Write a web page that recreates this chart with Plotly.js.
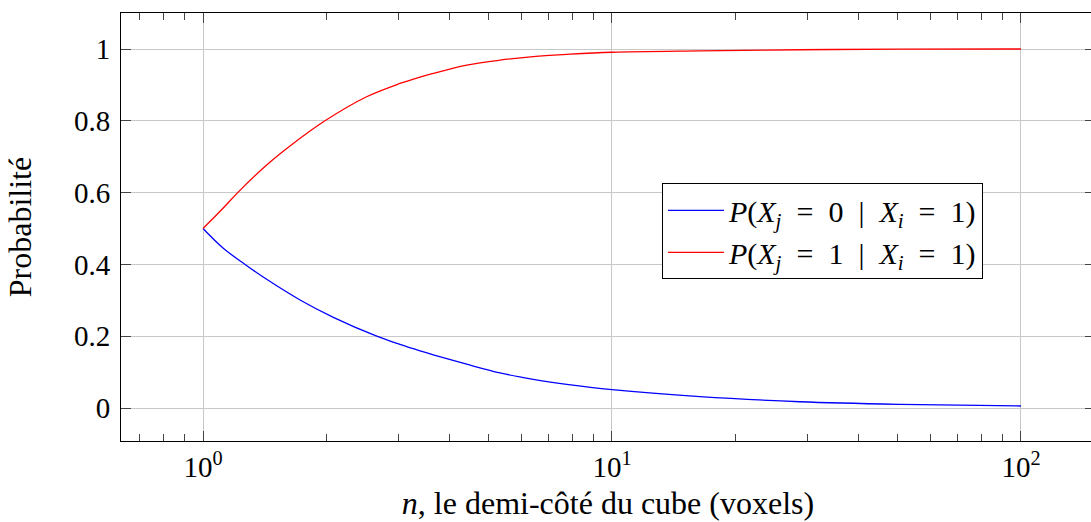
<!DOCTYPE html>
<html>
<head>
<meta charset="utf-8">
<script src="https://cdn.plot.ly/plotly-3.0.1.min.js"></script>
<style>
html, body { margin: 0; padding: 0; overflow: hidden; background: #fff; }
#chart { width: 1095px; height: 522px; }
</style>
</head>
<body>
<div id="chart"></div>
<script>
// n values and probabilities
const nBlue = [1, 1.121, 1.267, 1.431, 1.727, 2.083, 2.66, 3.03, 3.394, 3.657, 4.414, 5.32, 6.42, 7.75, 10, 16.4, 28.8, 50.6, 100];
const pBlue = [0.5, 0.445, 0.400, 0.3585, 0.301, 0.2526, 0.200, 0.177, 0.159, 0.148, 0.122, 0.098, 0.080, 0.066, 0.051, 0.0315, 0.0175, 0.0103, 0.0056];

const nRed = [1, 1.121, 1.216, 1.431, 1.632, 1.987, 2.512, 3.03, 3.394, 3.657, 4.414, 5.32, 6.42, 7.75, 10, 16.4, 28.8, 50.6, 100];
const pRed = [0.5, 0.557, 0.600, 0.677, 0.730, 0.800, 0.867, 0.904, 0.922, 0.932, 0.955, 0.969, 0.979, 0.985, 0.991, 0.995, 0.998, 0.9995, 1.0];

const SP = '\u00a0 ';
const seriesNames = [
  '<i>P</i>(<i>X</i><sub><i>j</i></sub>' + SP + '=' + SP + '0' + SP + '|' + SP + '<i>X</i><sub><i>i</i></sub>' + SP + '=' + SP + '1)',
  '<i>P</i>(<i>X</i><sub><i>j</i></sub>' + SP + '=' + SP + '1' + SP + '|' + SP + '<i>X</i><sub><i>i</i></sub>' + SP + '=' + SP + '1)'
];

const xTickVals = [1, 10, 100];
const xTickText = ['10<sup>0</sup>', '10<sup>1</sup>', '10<sup>2</sup>'];
const xMinorVals = [0.7, 0.8, 0.9, 2, 3, 4, 5, 6, 7, 8, 9, 20, 30, 40, 50, 60, 70, 80, 90];
const yTickVals = [0, 0.2, 0.4, 0.6, 0.8, 1];
const yTickText = ['0', '0.2', '0.4', '0.6', '0.8', '1'];

const FONT = '"Liberation Serif", "DejaVu Serif", serif';
const FS_TICK = 29;
const FS_TITLE = 32;
const FS_LEG = 30;

const traces = [
  { x: nBlue, y: pBlue, name: seriesNames[0], mode: 'lines', line: { color: 'rgb(0,0,255)', width: 1.3, shape: 'spline', smoothing: 1 } },
  { x: nRed, y: pRed, name: seriesNames[1], mode: 'lines', line: { color: 'rgb(255,0,0)', width: 1.3, shape: 'spline', smoothing: 1 } }
];

const layout = {
  width: 1095, height: 522,
  margin: { l: 121, r: 0, t: 13, b: 81 },
  paper_bgcolor: '#fff', plot_bgcolor: '#fff',
  font: { family: FONT, size: FS_TICK, color: '#000' },
  showlegend: true,
  legend: {
    x: 0.5554, y: 0.602, xanchor: 'left', yanchor: 'top',
    bordercolor: '#000', borderwidth: 1, bgcolor: '#fff',
    font: { family: FONT, size: FS_LEG },
    itemwidth: 56,
    tracegroupgap: 0
  },
  xaxis: {
    type: 'log',
    range: [-0.2005, 2.181],
    tickmode: 'array', tickvals: xTickVals, ticktext: xTickText,
    ticks: 'inside', ticklen: 10, tickcolor: '#444', tickwidth: 1,
    showline: true, linecolor: '#000', linewidth: 1, mirror: 'ticks',
    showgrid: true, gridcolor: 'rgb(200,200,200)', gridwidth: 1,
    zeroline: false,
    minor: { tickmode: 'array', tickvals: xMinorVals, ticks: 'inside', ticklen: 7, tickcolor: '#444', showgrid: false },
    tickfont: { family: FONT, size: FS_TICK },
    title: { text: '<i>n</i>, le demi-côté du cube (voxels)', font: { family: FONT, size: FS_TITLE }, standoff: 9 }
  },
  yaxis: {
    range: [-0.0919, 1.1003],
    tickmode: 'array', tickvals: yTickVals, ticktext: yTickText,
    ticks: 'inside', ticklen: 10, tickcolor: '#444', tickwidth: 1,
    showline: true, linecolor: '#000', linewidth: 1, mirror: 'ticks',
    showgrid: true, gridcolor: 'rgb(200,200,200)', gridwidth: 1,
    zeroline: false,
    tickfont: { family: FONT, size: FS_TICK },
    ticklabelstandoff: 4,
    title: { text: 'Probabilité', font: { family: FONT, size: FS_TITLE }, standoff: 32 }
  }
};

Plotly.newPlot('chart', traces, layout, { displayModeBar: false, staticPlot: true });
</script>
</body>
</html>
